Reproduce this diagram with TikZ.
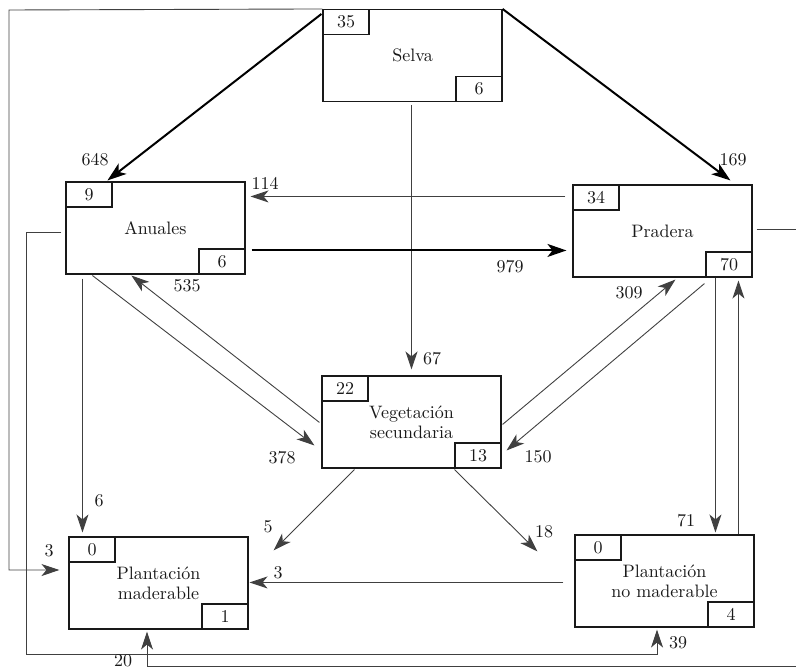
\documentclass[tikz,border=0pt]{standalone}
\usepackage{fontspec}
\setmainfont{lmroman10-regular.otf}
\usetikzlibrary{arrows.meta,calc}

\tikzset{
  box/.style={draw=black!90, line width=1.1pt, minimum width=179pt, minimum height=92pt, inner sep=0pt, align=center},
  tag/.style={draw=black!90, line width=1.1pt, minimum width=46pt, minimum height=25pt, inner sep=0pt},
  flow/.style={draw=black!75, line width=0.9pt, -{Stealth[length=18pt,width=12pt,inset=5pt]}},
  bigflow/.style={draw=black, line width=2pt, -{Stealth[length=19pt,width=13pt,inset=5pt]}},
}

\begin{document}
\begin{tikzpicture}[x=1pt,y=-1pt, every node/.style={font=\fontsize{18}{20}\selectfont, text=black!90}]
\useasboundingbox (0,0) rectangle (796,670);

%% land use boxes
\node[box] (selva) at (412.5,55.5) {Selva};
\node[box] (anuales) at (155.5,228) {Anuales};
\node[box] (pradera) at (662.5,231) {Pradera};
\node[box] (veg) at (411.5,422) {Vegetaci\'on\\secundaria};
\node[box] (plmad) at (158.5,583) {Plantaci\'on\\maderable};
\node[box] (plnomad) at (664.5,581) {Plantaci\'on\\no maderable};

%% corner tags
\node[tag, anchor=north west] (selva-in) at (selva.north west) {35};
\node[tag, anchor=south east] (selva-out) at (selva.south east) {6};
\node[tag, anchor=north west] (anuales-in) at (anuales.north west) {9};
\node[tag, anchor=south east] (anuales-out) at (anuales.south east) {6};
\node[tag, anchor=north west] (pradera-in) at (pradera.north west) {34};
\node[tag, anchor=south east] (pradera-out) at (pradera.south east) {70};
\node[tag, anchor=north west] (veg-in) at (veg.north west) {22};
\node[tag, anchor=south east] (veg-out) at (veg.south east) {13};
\node[tag, anchor=north west] (plmad-in) at (plmad.north west) {0};
\node[tag, anchor=south east] (plmad-out) at (plmad.south east) {1};
\node[tag, anchor=north west] (plnomad-in) at (plnomad.north west) {0};
\node[tag, anchor=south east] (plnomad-out) at (plnomad.south east) {4};

%% corners of the outer loops
\coordinate (tl) at (9,10);
\coordinate (bl) at (26,654);
\coordinate (br) at (800,666);

%% flows out of Selva
\draw[bigflow] ($(selva.north west)+(-1,5)$) -- ($(anuales.north west)+(42,-1)$);
\draw[bigflow] (selva.north east) -- ($(pradera.north west)+(158,-4)$);
\draw[flow] ($(selva.south)+(-1,3)$) -- ($(veg.north)+(0,-6)$);
\draw[flow] (selva.north west) -- (tl) |- ($(plmad.west)+(-9,-13)$); %%LeftLoop

%% Anuales <-> Pradera
\draw[flow] ($(pradera.north west)+(-7,12)$) -- ($(anuales.north east)+(5,15)$);
\draw[bigflow] ($(anuales.north east)+(6,69)$) -- ($(pradera.north west)+(-6,66)$);

%% to and from Vegetacion secundaria
\draw[flow] ($(veg.north west)+(-2,47)$) -- ($(anuales.south west)+(66,1)$);
\draw[flow] ($(anuales.south west)+(27,1)$) -- ($(veg.north west)+(-7,70)$);
\draw[flow] ($(veg.north east)+(1,49)$) -- ($(pradera.south west)+(103,2)$);
\draw[flow] ($(pradera.south west)+(132,6)$) -- ($(veg.north east)+(5,75)$);

%% into the plantations
\draw[flow] ($(anuales.south west)+(17,4)$) -- ($(plmad.north west)+(14,-4)$);
\draw[flow] ($(veg.south west)+(33,1)$) -- ($(plmad.north east)+(25,14)$);
\draw[flow] ($(veg.south west)+(133,1)$) -- ($(plnomad.north west)+(-37,17)$);
\draw[flow] ($(plnomad.north west)+(-11,48)$) -- ($(plmad.north east)+(1,46)$);
\draw[flow] ($(pradera.south west)+(143,0)$) -- ($(plnomad.north west)+(141,-2)$);
\draw[flow] ($(plnomad.north west)+(164,0)$) -- ($(pradera.south west)+(166,3)$);
\draw[flow] ($(anuales.west)+(-4,4)$) -| (bl) -| ($(plnomad.south)+(-7.5,2)$); %%BottomLoop
\draw[flow] ($(pradera.east)+(4,-2)$) -| (br) -| ($(plmad.south)+(-11.5,2)$); %%RightLoop

%% flow values
\node (n648) at (95,160) {648};
\node (n169) at (733,160) {169};
\node (n114) at (265,183) {114};
\node (n979) at (510,267) {979};
\node (n535) at (187,286) {535};
\node (n309) at (629,293) {309};
\node (n67) at (432,359) {67};
\node (n378) at (282,458) {378};
\node (n150) at (538,457) {150};
\node (n6) at (99,501) {6};
\node (n5) at (268,527) {5};
\node (n18) at (544,532) {18};
\node (n3a) at (49,551) {3};
\node (n3b) at (278,573) {3};
\node (n71) at (686,521) {71};
\node (n39) at (678,643) {39};
\node (n20) at (123,661) {20};
\end{tikzpicture}
\end{document}
